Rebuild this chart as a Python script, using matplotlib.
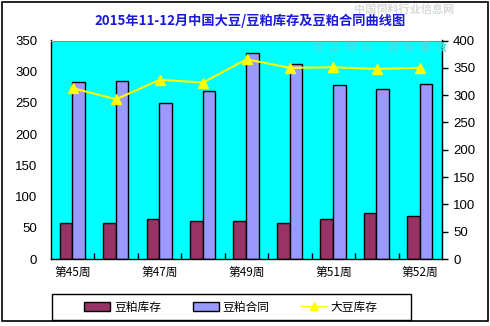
import matplotlib
matplotlib.use("Agg")
import matplotlib.pyplot as plt
from matplotlib.patches import Rectangle, Patch
from matplotlib.lines import Line2D
import numpy as np

plt.rcParams['font.family'] = ['Noto Sans CJK SC', 'DejaVu Sans']

weeks = ['第45周', '第46周', '第47周', '第48周', '第49周', '第50周', '第51周', '第52周', '第52周']
meal_stock = [57.7, 57.7, 64, 61, 61, 58, 64, 73.7, 69]
meal_contract = [283.6, 285, 250, 269, 329.6, 312, 278, 272, 280.5]
soy_stock = [312.6, 292.5, 328, 323, 365.7, 350, 351, 348, 350]

title = '2015年11-12月中国大豆/豆粕库存及豆粕合同曲线图'
series_names = ['豆粕库存', '豆粕合同', '大豆库存']

W, H = 490, 326
fig = plt.figure(figsize=(W / 100, H / 100), dpi=100)
fig.patch.set_facecolor('white')


def fx(px):
    return px / W


def fy(py):
    return 1 - py / H


# outer chart frame
fig.add_artist(Rectangle((fx(2), fy(321)), fx(486), 319 / H, transform=fig.transFigure,
                         fill=False, edgecolor='black', linewidth=1.2))

ax = fig.add_axes([fx(51), fy(259), fx(391), 218.5 / H])
ax.set_facecolor('#00FFFF')

x = np.arange(len(weeks))
w = 0.29
ax.bar(x - 0.155, meal_stock, width=w, color='#993366', edgecolor='black', linewidth=1, zorder=2)
ax.bar(x + 0.135, meal_contract, width=w, color='#9999FF', edgecolor='black', linewidth=1, zorder=2)

ax.set_xlim(-0.5, len(weeks) - 0.5)
ax.set_ylim(0, 350)
ax.set_yticks(np.arange(0, 351, 50))
ax.set_xticks(x[::2])
ax.set_xticklabels([weeks[i] for i in range(0, len(weeks), 2)], fontsize=8.5)
ax.set_xticks(np.arange(0.5, len(weeks) - 0.5, 1), minor=True)
ax.tick_params(axis='x', which='major', length=0, pad=5)
ax.tick_params(axis='x', which='minor', direction='in', length=4, width=1)
ax.tick_params(axis='y', length=0, labelsize=9.5, pad=10)
for lab in ax.get_yticklabels():
    lab.set_family(['Liberation Sans', 'DejaVu Sans'])
for s in ['left', 'bottom', 'right']:
    ax.spines[s].set_color('black')
    ax.spines[s].set_linewidth(1)
ax.spines['top'].set_color('#909090')

ax2 = ax.twinx()
ax2.plot(x, soy_stock, color='#FFFF00', linewidth=1.5, marker='^', markersize=7,
         markerfacecolor='#FFFF00', markeredgecolor='#FFFF00', zorder=3)
ax2.set_ylim(0, 400)
ax2.set_yticks(np.arange(0, 401, 50))
ax2.tick_params(axis='y', direction='out', length=4, width=1, labelsize=9.5, pad=4)
for lab in ax2.get_yticklabels():
    lab.set_family(['Liberation Sans', 'DejaVu Sans'])
for s in ['left', 'top', 'bottom']:
    ax2.spines[s].set_visible(False)
ax2.spines['right'].set_color('black')

# site watermark
fig.text(fx(404), fy(9), '中国饲料行业信息网', fontsize=8, color='#d5dbd5', ha='center', va='center',
         fontweight='bold')
fig.text(fx(380), fy(47), '立  足  饲  料      服  务  畜  牧', fontsize=8, color='#3fe0e6',
         ha='center', va='center', fontstyle='italic', fontweight='bold', zorder=5)

fig.text(fx(250), fy(21), title, fontsize=9.5, color='#1a1ad8', fontweight='bold',
         ha='center', va='center')

# legend with a hand-sized frame
fig.add_artist(Rectangle((fx(52), fy(320)), fx(359), 26 / H, transform=fig.transFigure,
                         fill=True, facecolor='white', edgecolor='black', linewidth=1, zorder=4))
handles = [Patch(facecolor='#993366', edgecolor='black', linewidth=1),
           Patch(facecolor='#9999FF', edgecolor='black', linewidth=1),
           Line2D([0], [0], color='#FFFF00', marker='^', markersize=6, linewidth=1)]
leg = fig.legend(handles, series_names, loc='center', bbox_to_anchor=(fx(231), fy(307)),
                 ncol=3, fontsize=8.5, frameon=False,
                 handlelength=2.2, handleheight=0.9, columnspacing=2.7, handletextpad=0.3,
                 borderpad=0.2)
leg.set_zorder(5)

fig.savefig('out.png', dpi=100, facecolor='white')
